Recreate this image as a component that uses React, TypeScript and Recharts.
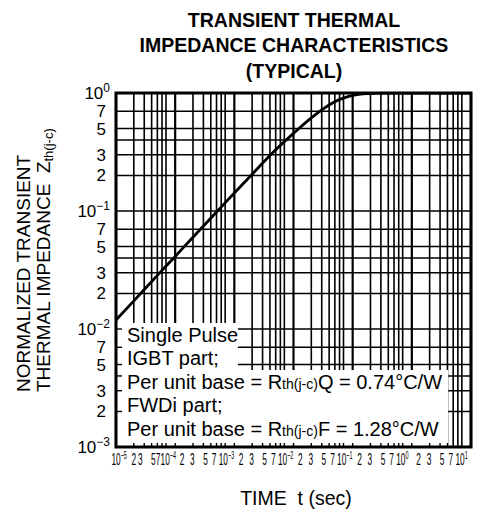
import React from 'react';
import { LineChart, Line, XAxis, YAxis, ReferenceLine, ReferenceArea } from 'recharts';

// curve (single pulse, normalized)
const timeSec = [1e-5, 2e-5, 5e-5, 1e-4, 2e-4, 5e-4, 1e-3, 2e-3, 5e-3, 1e-2, 2e-2, 3e-2, 5e-2, 7e-2, 1e-1, 2e-1, 3e-1, 1, 10];
const zthNorm = [0.0119, 0.0173, 0.0285, 0.0412, 0.06, 0.098, 0.142, 0.205, 0.33, 0.455, 0.615, 0.72, 0.845, 0.905, 0.955, 0.99, 1.0, 1.0, 1.0];

const xDecades = [-5, -4, -3, -2, -1, 0, 1];
const yDecades = [-3, -2, -1, 0];
const xGridMantissas = [1, 2, 3, 4, 5, 6, 7];
const yGridMantissas = [1, 2, 3, 4, 5, 7];
const tickMantissas = [1, 2, 3, 5, 7];

// legend box corners (data units)
const boxNarrow = { x1: 1e-5, x2: 1.15e-3, y1: 0.0045, y2: 0.01125 };
const boxWide = { x1: 1e-5, x2: 4.1, y1: 1e-3, y2: 0.0045 };

const X_MIN = 1e-5, X_MAX = 10, Y_MIN = 1e-3, Y_MAX = 1;

const data = timeSec.map((t, i) => ({ t, z: zthNorm[i] }));

const expand = (decades: number[], mants: number[], lo: number, hi: number) =>
  decades
    .flatMap((d) => mants.map((m) => m * Math.pow(10, d)))
    .filter((v) => v >= lo * 0.999 && v <= hi * 1.001);

const xGrid = expand(xDecades, xGridMantissas, X_MIN, X_MAX);
const yGrid = expand(yDecades, yGridMantissas, Y_MIN, Y_MAX);
const xTicks = expand(xDecades, tickMantissas, X_MIN, X_MAX);
const yTicks = expand(yDecades, tickMantissas, Y_MIN, Y_MAX);

const xInWide = xGrid.filter((v) => v <= boxWide.x2);
const yInBox = yGrid.filter((v) => v <= boxNarrow.y2 && v > Y_MIN * 1.01);

const FONT = '"Liberation Sans", Arial, Helvetica, sans-serif';
const PLOT_BOTTOM = 447;

const split = (v: number) => {
  const e = Math.floor(Math.log10(v) + 1e-9);
  const m = Math.round(v / Math.pow(10, e));
  return { e, m };
};

const expText = (e: number) => (e < 0 ? '\u2212' + Math.abs(e) : String(e));

// the printed labels sit a little left of their lines
const labelShift = (e: number, m: number) => {
  if (e === -5) return m === 1 || m === 2 ? 0 : m === 3 ? -4 : m === 5 ? -4 : -8;
  if (e === -4 && m === 1) return -10;
  return -11;
};

const XTick = (props: any) => {
  const { x, payload } = props;
  const { e, m } = split(payload.value);
  const dx = labelShift(e, m);
  return (
    <g transform={`translate(${x + dx},${PLOT_BOTTOM + 18}) scale(0.52,1)`}>
      {m === 1 ? (
        <text x={-8.9} y={0} fontFamily={FONT} fontSize={16} fill="#000" textAnchor="start">
          10
          <tspan fontSize={10.5} dy={-6.5}>{expText(e)}</tspan>
        </text>
      ) : (
        <text x={0} y={0} fontFamily={FONT} fontSize={16} fill="#000" textAnchor="middle">
          {m}
        </text>
      )}
    </g>
  );
};

const YTick = (props: any) => {
  const { y, payload } = props;
  const { e, m } = split(payload.value);
  if (m === 1) {
    return (
      <text x={110} y={y + 6} fontFamily={FONT} fontSize={17} fill="#000" textAnchor="end">
        10
        <tspan fontSize={12} dy={-7}>{expText(e)}</tspan>
      </text>
    );
  }
  return (
    <text x={106} y={y + 6} fontFamily={FONT} fontSize={17} fill="#000" textAnchor="end">
      {m}
    </text>
  );
};

const bottomTick = (p: any) => {
  const yb = Math.max(p.y1, p.y2);
  return <line x1={p.x1} x2={p.x1} y1={yb} y2={yb - 4} stroke="#000" strokeWidth={1.4} />;
};

const leftTick = (p: any) => {
  const xl = Math.min(p.x1, p.x2);
  return <line x1={xl} x2={xl + 6} y1={p.y1} y2={p.y1} stroke="#000" strokeWidth={1.4} />;
};

const isDecade = (v: number) => split(v).m === 1;

export default function App() {
  return (
    <div style={{ position: 'absolute', left: 0, top: 0, width: 483, height: 521, background: '#fff' }}>
      <LineChart width={483} height={521} data={data} margin={{ top: 93, right: 12, bottom: 0, left: 0 }}>
        <XAxis
          dataKey="t"
          type="number"
          scale="log"
          domain={[X_MIN, X_MAX]}
          allowDataOverflow
          ticks={xTicks}
          interval={0}
          height={74}
          axisLine={false}
          tickLine={false}
          tick={<XTick />}
        />
        <YAxis
          type="number"
          scale="log"
          domain={[Y_MIN, Y_MAX]}
          allowDataOverflow
          ticks={yTicks}
          interval={0}
          width={116}
          axisLine={false}
          tickLine={false}
          tick={<YTick />}
        />
        {xGrid.map((v) => (
          <ReferenceLine key={'gx' + v} x={v} stroke="#000" strokeWidth={isDecade(v) ? 2.2 : 1.6} zIndex={50} />
        ))}
        {yGrid.map((v) => (
          <ReferenceLine key={'gy' + v} y={v} stroke="#000" strokeWidth={1.6} zIndex={50} />
        ))}
        <Line
          type="monotone"
          dataKey="z"
          stroke="#000"
          strokeWidth={2.8}
          dot={false}
          isAnimationActive={false}
        />
        <ReferenceArea {...boxNarrow} fill="#fff" fillOpacity={1} stroke="none" zIndex={150} />
        <ReferenceArea {...boxWide} fill="#fff" fillOpacity={1} stroke="none" zIndex={150} />
        {xInWide.map((v) => (
          <ReferenceLine key={'tx' + v} x={v} stroke="#000" shape={bottomTick} zIndex={160} />
        ))}
        {yInBox.map((v) => (
          <ReferenceLine key={'ty' + v} y={v} stroke="#000" shape={leftTick} zIndex={160} />
        ))}
        <ReferenceArea
          x1={X_MIN}
          x2={X_MAX}
          y1={Y_MIN}
          y2={Y_MAX}
          fill="none"
          fillOpacity={0}
          stroke="#000"
          strokeWidth={3}
          zIndex={1500}
        />
      </LineChart>
      <svg
        width={483}
        height={521}
        style={{ position: 'absolute', left: 0, top: 0, pointerEvents: 'none' }}
        fontFamily={FONT}
      >
        <g fontWeight="bold" fontSize={19.5} textAnchor="middle" fill="#000">
          <text x={294} y={27}>TRANSIENT THERMAL</text>
          <text x={294} y={52}>IMPEDANCE CHARACTERISTICS</text>
          <text x={294} y={78}>(TYPICAL)</text>
        </g>
        <g fontSize={19} fill="#000">
          <text transform="translate(30,392) rotate(-90)">NORMALIZED TRANSIENT</text>
          <text transform="translate(50,392) rotate(-90)" xmlSpace="preserve">
            THERMAL IMPEDANCE  Z<tspan fontSize={13} dy={3}>th(j-c)</tspan>
          </text>
        </g>
        <g fontSize={20} fill="#000">
          <text x={127} y={342}>Single Pulse</text>
          <text x={127} y={365}>IGBT part;</text>
          <text x={127} y={389}>
            Per unit base = R<tspan fontSize={14}>th(j-c)</tspan>Q = 0.74°C/W
          </text>
          <text x={127} y={412}>FWDi part;</text>
          <text x={127} y={436}>
            Per unit base = R<tspan fontSize={14}>th(j-c)</tspan>F = 1.28°C/W
          </text>
        </g>
        <text x={296} y={505} fontSize={19.5} textAnchor="middle" xmlSpace="preserve" fill="#000">
          TIME  t (sec)
        </text>
      </svg>
    </div>
  );
}
